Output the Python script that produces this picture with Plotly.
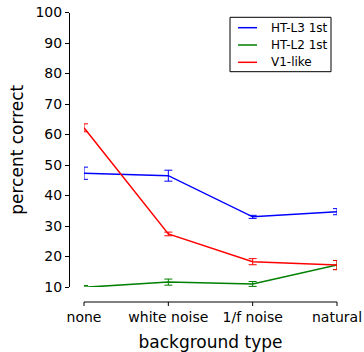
import plotly.graph_objects as go

categories = ["none", "white noise", "1/f noise", "natural"]
series_names = ["HT-L3 1st", "HT-L2 1st", "V1-like"]
ht_l3 = [47.3, 46.5, 33.0, 34.7]
ht_l3_err = [2.0, 1.8, 0.5, 1.0]
ht_l2 = [9.9, 11.6, 11.0, 17.2]
ht_l2_err = [0.6, 1.0, 0.8, 1.5]
v1_like = [62.2, 27.4, 18.3, 17.2]
v1_like_err = [1.3, 0.6, 1.0, 1.5]
colors = ["#0000ff", "#008000", "#ff0000"]
y_ticks = [10, 20, 30, 40, 50, 60, 70, 80, 90, 100]

W, H = 364, 352
font_family = "DejaVu Sans"
x_pos = list(range(len(categories)))
x_lo, x_hi = 84, 337          # plot area, pixels
x_dom = [x_lo / W, x_hi / W]
spine_y = 1 - 302 / H

fig = go.Figure()
for name, vals, errs, col in zip(series_names, [ht_l3, ht_l2, v1_like],
                                 [ht_l3_err, ht_l2_err, v1_like_err], colors):
    fig.add_trace(go.Scatter(
        x=x_pos, y=vals, name=name, mode="lines",
        line=dict(color=col, width=1.5), showlegend=False,
        error_y=dict(type="data", array=errs, visible=True,
                     color=col, thickness=1, width=4),
    ))

# offset bottom spine + ticks drawn on an auxiliary (x2, y2) strip
pad_px = 5
unit_per_px = (len(x_pos) - 1) / (x_hi - x_lo)
x2_range = [-pad_px * unit_per_px, (len(x_pos) - 1) + pad_px * unit_per_px]
x2_dom = [(x_lo - pad_px) / W, (x_hi + pad_px) / W]
fig.add_trace(go.Scatter(x=[x_pos[0], x_pos[-1]], y=[0, 0], xaxis="x2", yaxis="y2",
                         mode="lines", line=dict(color="black", width=1),
                         showlegend=False, hoverinfo="skip"))
tx, ty = [], []
for p in x_pos:
    tx += [p, p, None]
    ty += [0, -4, None]
fig.add_trace(go.Scatter(x=tx, y=ty, xaxis="x2", yaxis="y2", mode="lines",
                         line=dict(color="black", width=1),
                         showlegend=False, hoverinfo="skip"))

# manual legend (box, line samples, labels) built from the series lists
leg_left, leg_right, leg_top, leg_bottom = 230, 331, 17.3, 71.7
row_y = [27.7, 45.0, 62.3]
shapes = [dict(type="rect", xref="paper", yref="paper",
               x0=leg_left / W, x1=leg_right / W,
               y0=1 - leg_bottom / H, y1=1 - leg_top / H,
               line=dict(color="black", width=1), fillcolor="white",
               layer="above")]
annotations = []
for name, col, ry in zip(series_names, colors, row_y):
    shapes.append(dict(type="line", xref="paper", yref="paper",
                       x0=238 / W, x1=257 / W, y0=1 - ry / H, y1=1 - ry / H,
                       line=dict(color=col, width=1.5), layer="above"))
    annotations.append(dict(xref="paper", yref="paper", x=269 / W, y=1 - ry / H,
                            xanchor="left", yanchor="middle", showarrow=False,
                            text=name, font=dict(size=12, family=font_family,
                                                 color="black")))

fig.update_layout(
    width=W, height=H,
    margin=dict(l=0, r=0, t=0, b=0, autoexpand=False),
    paper_bgcolor="white", plot_bgcolor="rgba(0,0,0,0)",
    font=dict(family=font_family, size=14, color="black"),
    showlegend=False,
    shapes=shapes, annotations=annotations,
    xaxis=dict(
        type="linear", range=[0, len(categories) - 1],
        tickmode="array", tickvals=x_pos, ticktext=categories,
        domain=x_dom,
        anchor="free", position=spine_y, automargin=False,
        showline=False, ticks="outside", ticklen=2,
        tickcolor="rgba(0,0,0,0)",
        showgrid=False, zeroline=False,
        title=dict(text="background type", font=dict(size=17), standoff=12),
        tickfont=dict(size=14),
    ),
    yaxis=dict(
        range=[10, 100], tickvals=y_ticks,
        domain=[1 - 287 / H, 1 - 12.5 / H],
        anchor="free", position=69 / W, automargin=False,
        showline=True, linecolor="black", linewidth=1,
        ticks="outside", ticklen=4, tickcolor="black",
        showgrid=False, zeroline=False,
        title=dict(text="percent correct", font=dict(size=17), standoff=6),
        tickfont=dict(size=14),
    ),
    xaxis2=dict(
        domain=x2_dom, range=x2_range, anchor="y2", visible=False,
        automargin=False, fixedrange=True,
    ),
    yaxis2=dict(
        domain=[1 - 310 / H, 1 - 296 / H], range=[-8, 6], anchor="x2",
        visible=False, automargin=False, fixedrange=True,
    ),
)
fig.write_html("out.html")
